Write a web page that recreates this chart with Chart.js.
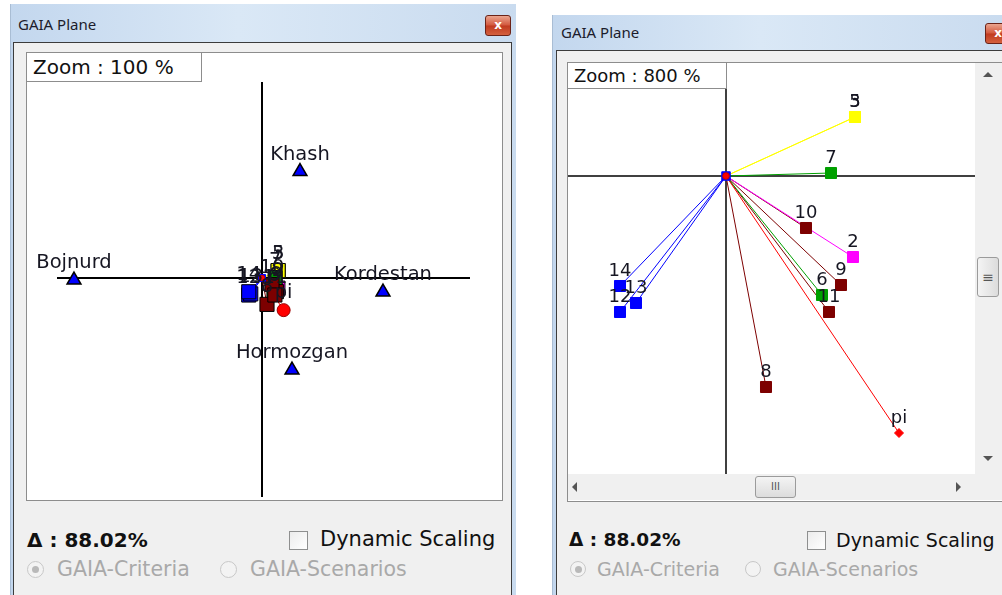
<!DOCTYPE html>
<html>
<head>
<meta charset="utf-8">
<title>GAIA Plane</title>
<script src="https://cdn.jsdelivr.net/npm/chart.js@4.4.0/dist/chart.umd.min.js"></script>
<style>
  body { margin:0; width:1002px; height:595px; overflow:hidden; background:#fff; position:relative; font-family:"DejaVu Sans", sans-serif; }
  .win { position:absolute; background:linear-gradient(90deg,#c3d7ee 0%,#dae8f6 45%,#c9dbef 100%); border-left:1px solid #a9bdd4; }
  .title { position:absolute; font-family:"Noto Sans","Open Sans",sans-serif; font-size:15px; color:#1c1c2c; line-height:20px; }
  .close { position:absolute; width:24px; height:19px; border:1px solid #6b2318; border-radius:3px; background:linear-gradient(#eba58f,#d3593e 48%,#c03a1f 52%,#d4603e); color:#fff; font:bold 12px "DejaVu Sans"; text-align:center; line-height:18px; }
  .client { position:absolute; background:#f0f0f0; border:1px solid #3c3c3c; box-sizing:border-box; }
  .panel { position:absolute; background:#fff; border:1px solid #8d8d8d; box-sizing:border-box; }
  .zoombox { position:absolute; background:#fff; border:1px solid #8d8d8d; box-sizing:border-box; color:#111; padding-left:6px; white-space:nowrap; z-index:3; }
  canvas { position:absolute; }
  .txt { position:absolute; white-space:nowrap; color:#111; }
  .bold { font-weight:bold; }
  .grey { color:#a9a9a9; }
  .chk { position:absolute; border:1px solid #8e8f8f; background:linear-gradient(135deg,#ececec,#fff); box-sizing:border-box; }
  .radio { position:absolute; border-radius:50%; border:1px solid #c8c8c8; background:#f3f3f3; box-sizing:border-box; }
  .radio.on::after { content:""; position:absolute; left:4px; top:4px; width:7px; height:7px; border-radius:50%; background:#b9b9b9; }
  .sb { position:absolute; background:#f0f0f0; z-index:2; }
  .thumb { position:absolute; border:1px solid #9b9b9b; border-radius:3px; background:linear-gradient(90deg,#f4f4f4,#dcdcdc); box-sizing:border-box; z-index:3; font:10px "DejaVu Sans"; color:#555; text-align:center; }
  .arr { position:absolute; width:0; height:0; z-index:3; }
</style>
</head>
<body>

<!-- left window : zoom 100 % -->
<div class="win" style="left:10px;top:4px;width:505px;height:600px;"></div>
<div class="title" style="left:18px;top:14px;">GAIA Plane</div>
<div class="close" style="left:485px;top:15px;">x</div>
<div class="client" style="left:13px;top:42px;width:499px;height:560px;"></div>
<div class="panel" style="left:26px;top:52px;width:477px;height:449px;"></div>
<canvas id="gaiaLeft" width="475" height="447" style="left:27px;top:53px;"></canvas>
<div class="zoombox" style="left:26px;top:52px;width:176px;height:30px;font-size:20px;line-height:28px;">Zoom : 100 %</div>
<div class="txt bold" style="left:27px;top:528px;font-size:20px;line-height:24px;">&Delta; : 88.02%</div>
<div class="chk" style="left:289px;top:531px;width:19px;height:19px;"></div>
<div class="txt" style="left:320px;top:527px;font-size:21px;line-height:25px;">Dynamic Scaling</div>
<div class="radio on" style="left:27px;top:561px;width:17px;height:17px;"></div>
<div class="txt grey" style="left:57px;top:557px;font-size:20.5px;line-height:24px;">GAIA-Criteria</div>
<div class="radio" style="left:220px;top:561px;width:17px;height:17px;"></div>
<div class="txt grey" style="left:250px;top:557px;font-size:20.5px;line-height:24px;">GAIA-Scenarios</div>

<!-- right window : zoom 800 % -->
<div class="win" style="left:552px;top:15px;width:460px;height:600px;"></div>
<div class="title" style="left:561px;top:22px;">GAIA Plane</div>
<div class="close" style="left:985px;top:23px;">x</div>
<div class="client" style="left:556px;top:50px;width:460px;height:560px;"></div>
<div class="panel" style="left:567px;top:62px;width:440px;height:440px;"></div>
<canvas id="gaiaRight" width="407" height="411" style="left:568px;top:63px;"></canvas>
<div class="zoombox" style="left:567px;top:62px;width:160px;height:27px;font-size:18px;line-height:25px;">Zoom : 800 %</div>
<div class="sb" style="left:975px;top:63px;width:27px;height:412px;"></div>
<div class="arr" style="left:983px;top:72px;border-left:5px solid transparent;border-right:5px solid transparent;border-bottom:5px solid #555;"></div>
<div class="arr" style="left:983px;top:456px;border-left:5px solid transparent;border-right:5px solid transparent;border-top:5px solid #555;"></div>
<div class="thumb" style="left:977px;top:257px;width:22px;height:40px;line-height:38px;font-size:14px;">&equiv;</div>
<div class="sb" style="left:568px;top:474px;width:434px;height:26px;"></div>
<div class="arr" style="left:572px;top:482px;border-top:5px solid transparent;border-bottom:5px solid transparent;border-right:5px solid #555;"></div>
<div class="arr" style="left:956px;top:482px;border-top:5px solid transparent;border-bottom:5px solid transparent;border-left:5px solid #555;"></div>
<div class="thumb" style="left:755px;top:476px;width:41px;height:22px;line-height:20px;background:linear-gradient(#f4f4f4,#dcdcdc);">III</div>
<div class="txt bold" style="left:569px;top:529px;font-size:18.5px;line-height:22px;">&Delta; : 88.02%</div>
<div class="chk" style="left:807px;top:531px;width:19px;height:19px;"></div>
<div class="txt" style="left:836px;top:528px;font-size:19px;line-height:24px;">Dynamic Scaling</div>
<div class="radio on" style="left:570px;top:561px;width:16px;height:16px;"></div>
<div class="txt grey" style="left:597px;top:557px;font-size:19px;line-height:24px;">GAIA-Criteria</div>
<div class="radio" style="left:745px;top:561px;width:16px;height:16px;"></div>
<div class="txt grey" style="left:773px;top:557px;font-size:19px;line-height:24px;">GAIA-Scenarios</div>

<script>
// criteria vectors in the GAIA plane
const criteriaNames = ['2', '3', '5', '6', '7', '8', '9', '10', '11', '12', '13', '14'];
const criteriaX = [1.27, 1.29, 1.29, 0.96, 1.05, 0.40, 1.15, 0.80, 1.03, -1.06, -0.90, -1.06];
const criteriaY = [-0.81, 0.59, 0.59, -1.19, 0.03, -2.11, -1.09, -0.52, -1.36, -1.36, -1.27, -1.10];
const criteriaColors = ['#ff00ff', '#ffff00', '#ffff00', '#00a000', '#00a000', '#7d0000',
                        '#7d0000', '#7d0000', '#7d0000', '#0000ff', '#0000ff', '#0000ff'];

// alternatives (scenarios)
const altNames = ['Khash', 'Bojnurd', 'Kordestan', 'Hormozgan'];
const altX = [3.04, -15.04, 9.68, 2.40];
const altY = [8.52, -0.16, -1.12, -7.36];

// decision axis pi
const piName = 'pi';
const piX = 1.73;
const piY = -2.57;

// drawn extent of the two plane axes
const axisSpanX = [-16.4, 16.64];
const axisSpanY = [-17.52, 15.68];

// text above each marker
const pointLabels = {
  id: 'pointLabels',
  afterDatasetsDraw(chart, args, opts) {
    const ctx = chart.ctx, xs = chart.scales.x, ys = chart.scales.y, a = chart.chartArea;
    const items = [];
    criteriaNames.forEach((n, i) => items.push([n, criteriaX[i], criteriaY[i]]));
    items.push([piName, piX, piY]);
    altNames.forEach((n, i) => items.push([n, altX[i], altY[i]]));
    ctx.save();
    ctx.beginPath();
    ctx.rect(a.left, a.top, a.right - a.left, a.bottom - a.top);
    ctx.clip();
    ctx.font = opts.font;
    ctx.fillStyle = '#161622';
    ctx.textAlign = 'center';
    ctx.textBaseline = 'alphabetic';
    items.forEach(([t, x, y]) => {
      ctx.fillText(t, xs.getPixelForValue(x), ys.getPixelForValue(y) - opts.offset);
    });
    ctx.restore();
  }
};

function buildChart(id, view) {
  const pts = criteriaNames.map((n, i) => ({ x: criteriaX[i], y: criteriaY[i] }));
  const datasets = [];

  // plane axes
  datasets.push({ data: [{ x: axisSpanX[0], y: 0 }, { x: axisSpanX[1], y: 0 }], showLine: true,
                  borderColor: '#000', borderWidth: view.axisWidth, pointRadius: 0, order: 20 });
  datasets.push({ data: [{ x: 0, y: axisSpanY[0] }, { x: 0, y: axisSpanY[1] }], showLine: true,
                  borderColor: '#000', borderWidth: view.axisWidth, pointRadius: 0, order: 20 });

  // vector from origin to every criterion
  pts.forEach((p, i) => {
    datasets.push({ data: [{ x: 0, y: 0 }, p], showLine: true, borderColor: criteriaColors[i],
                    borderWidth: 1, pointRadius: 0, order: 10 });
  });
  datasets.push({ data: [{ x: 0, y: 0 }, { x: piX, y: piY }], showLine: true, borderColor: '#ff0000',
                  borderWidth: 1, pointRadius: 0, order: 9 });

  // criterion markers
  datasets.push({ data: pts, pointStyle: 'rect', pointRadius: view.rectR,
                  pointBackgroundColor: criteriaColors, pointBorderColor: view.rectBorder || criteriaColors,
                  pointBorderWidth: 1, order: 4 });

  // alternatives
  datasets.push({ data: altX.map((x, i) => ({ x: x, y: altY[i] })), pointStyle: 'triangle', pointRadius: 8,
                  pointBackgroundColor: '#0000ff', pointBorderColor: '#000', pointBorderWidth: 1.5, order: 3 });

  // pi
  datasets.push({ data: [{ x: piX, y: piY }], pointStyle: view.piStyle, pointRadius: view.piR,
                  pointBackgroundColor: '#ff0000', pointBorderColor: view.piBorder, pointBorderWidth: 1, order: 2 });

  // origin
  datasets.push({ data: [{ x: 0, y: 0 }], pointStyle: 'rect', pointRadius: view.originR,
                  pointBackgroundColor: '#0000ff', pointBorderColor: '#0000ff', order: 2 });
  datasets.push({ data: [{ x: 0, y: 0 }], pointStyle: 'circle', pointRadius: view.originR * 0.55,
                  pointBackgroundColor: '#ff0000', pointBorderColor: '#cc0000', order: 1 });

  return new Chart(document.getElementById(id).getContext('2d'), {
    type: 'scatter',
    data: { datasets: datasets },
    options: {
      responsive: false,
      animation: false,
      events: [],
      layout: { padding: 0, autoPadding: false },
      scales: {
        x: { type: 'linear', display: false, min: view.xMin, max: view.xMax },
        y: { type: 'linear', display: false, min: view.yMin, max: view.yMax }
      },
      plugins: {
        legend: { display: false },
        tooltip: { enabled: false },
        pointLabels: { font: view.font, offset: view.offset }
      }
    },
    plugins: [pointLabels]
  });
}

// 100 % view
buildChart('gaiaLeft', {
  xMin: -18.8, xMax: 19.2, yMin: -17.76, yMax: 18.0,
  axisWidth: 2, rectR: 10, rectBorder: '#000', piStyle: 'circle', piR: 6.5, piBorder: '#900',
  originR: 5, font: '19.5px "DejaVu Sans"', offset: 12
});

// 800 % view
buildChart('gaiaRight', {
  xMin: -1.58, xMax: 2.49, yMin: -2.98, yMax: 1.13,
  axisWidth: 1.5, rectR: 7.8, rectBorder: null, piStyle: 'rectRot', piR: 4.5, piBorder: '#ff0000',
  originR: 6, font: '18px "DejaVu Sans"', offset: 10
});
</script>
</body>
</html>
